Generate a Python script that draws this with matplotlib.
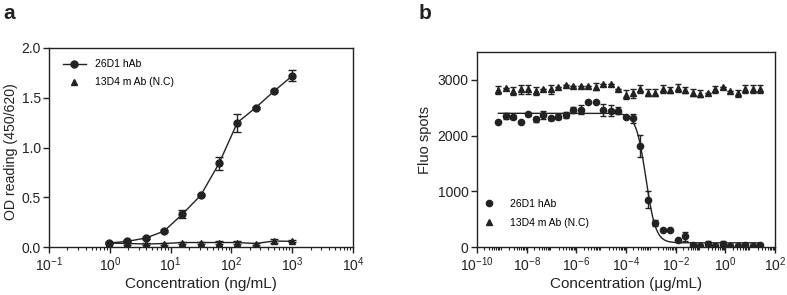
"""
Two-panel binding / neutralisation chart: ELISA OD (a) and Fluo spots (b).
"""

import numpy as np
import matplotlib
matplotlib.use("Agg")
import matplotlib.pyplot as plt
from matplotlib.lines import Line2D
from matplotlib.ticker import LogLocator, NullFormatter

plt.rcParams['font.family'] = ['Liberation Sans', 'DejaVu Sans']
plt.rcParams['mathtext.fontset'] = 'custom'
plt.rcParams['mathtext.rm'] = 'Liberation Sans'
plt.rcParams['mathtext.it'] = 'Liberation Sans:italic'

INK = '#222222'

# ---- panel a: ELISA, 2-fold dilution from 1000 ng/mL
conc_a = [0.977, 1.95, 3.91, 7.81, 15.6, 31.3, 62.5, 125, 250, 500, 1000]
od_26d1 = [0.04, 0.057, 0.09, 0.16, 0.33, 0.52, 0.84, 1.25, 1.40, 1.565, 1.72]
od_26d1_err = [0.01, 0.01, 0.01, 0.01, 0.04, 0.01, 0.065, 0.09, 0.01, 0.01, 0.055]
od_13d4 = [0.04, 0.035, 0.03, 0.035, 0.045, 0.045, 0.045, 0.045, 0.035, 0.06, 0.057]
od_13d4_err = [0.01, 0.01, 0.01, 0.01, 0.01, 0.01, 0.015, 0.015, 0.01, 0.02, 0.01]

# ---- panel b: Fluo spots, 2-fold dilution from 25 ug/mL (36 points)
conc_b = [25.0 / 2 ** k for k in range(35, -1, -1)]
spots_26d1 = [2250, 2350, 2330, 2250, 2380, 2290, 2370, 2310, 2340, 2370,
              2460, 2460, 2600, 2610, 2460, 2450, 2450, 2330, 2310, 1810,
              850, 430, 300, 300, 130, 190, 30, 10, 50, 10,
              60, 10, 10, 30, 15, 30]
spots_26d1_err = [0, 60, 40, 0, 30, 40, 80, 30, 40, 60,
                  60, 80, 0, 0, 100, 100, 60, 0, 80, 200,
                  150, 60, 0, 0, 0, 80, 40, 0, 50, 0,
                  40, 0, 0, 40, 0, 30]
spots_13d4 = [2820, 2860, 2800, 2830, 2830, 2800, 2840, 2830, 2880, 2910,
              2890, 2890, 2890, 2880, 2930, 2930, 2830, 2730, 2760, 2830,
              2770, 2770, 2830, 2820, 2850, 2820, 2770, 2750, 2760, 2830,
              2870, 2800, 2760, 2830, 2830, 2830]
spots_13d4_err = [70, 0, 80, 80, 80, 70, 0, 80, 0, 0,
                  0, 0, 0, 60, 0, 0, 0, 80, 80, 70,
                  60, 60, 70, 60, 70, 60, 60, 60, 0, 60,
                  0, 0, 60, 70, 70, 70]

# fitted 4PL curve parameters
fit_top, fit_bottom, fit_ic50, fit_hill = 2400, 75, 6.3e-4, 2.2


def log_axis_style(ax):
    ax.set_xscale('log')
    ax.xaxis.set_minor_locator(LogLocator(base=10, subs=np.arange(2, 10),
                                          numticks=30))
    ax.xaxis.set_minor_formatter(NullFormatter())
    ax.tick_params(axis='both', which='major', direction='out', length=4.5,
                   width=1, color=INK, labelsize=10, labelcolor=INK, pad=1.5)
    ax.tick_params(axis='x', which='minor', direction='out', length=2.5,
                   width=0.8, color=INK)
    for sp in ax.spines.values():
        sp.set_color(INK)
        sp.set_linewidth(1.0)


def pow_labels(exps):
    return [r'$\mathregular{10^{%d}}$' % e for e in exps]


fig = plt.figure(figsize=(7.87, 2.95), dpi=100)

# ---------------- panel a
ax1 = fig.add_axes([0.0623, 0.1627, 0.3863, 0.6746])
ax1.errorbar(conc_a, od_26d1, yerr=od_26d1_err, color=INK, marker='o',
             markersize=5, linewidth=1, capsize=3, elinewidth=1, capthick=1)
ax1.errorbar(conc_a, od_13d4, yerr=od_13d4_err, color=INK, marker='^',
             markersize=4.5, linewidth=1, capsize=3, elinewidth=1, capthick=1)
log_axis_style(ax1)
ax1.set_xlim(0.1, 1e4)
ax1.set_ylim(0, 2.0)
ax1.set_yticks([0.0, 0.5, 1.0, 1.5, 2.0])
ax1.set_yticklabels(['0.0', '0.5', '1.0', '1.5', '2.0'])
ax1.set_xticks([10.0 ** e for e in range(-1, 5)])
ax1.set_xticklabels(pow_labels(range(-1, 5)))
ax1.set_xlabel('Concentration (ng/mL)', fontsize=11, color=INK, labelpad=2)
ax1.set_ylabel('OD reading (450/620)', fontsize=10.2, color=INK)
ax1.yaxis.set_label_coords(-0.102, 0.48)
handles_a = [
    Line2D([], [], color=INK, marker='o', markersize=5, linewidth=1),
    Line2D([], [], color=INK, marker='^', markersize=4.5, linestyle='none'),
]
ax1.legend(handles_a, ['26D1 hAb', '13D4 m Ab (N.C)'], loc='upper left',
           frameon=False, fontsize=7.5, handlelength=2.2, handletextpad=0.9,
           bbox_to_anchor=(0.015, 0.99), labelspacing=0.75)
fig.text(0.004, 0.955, 'a', fontsize=15, fontweight='bold', color=INK,
         va='center')

# ---------------- panel b
ax2 = fig.add_axes([0.6061, 0.1627, 0.3787, 0.661])
ax2.errorbar(conc_b, spots_13d4, yerr=spots_13d4_err, color=INK, marker='^',
             markersize=4.5, linestyle='none', capsize=2.5, elinewidth=1,
             capthick=1)
ax2.errorbar(conc_b, spots_26d1, yerr=spots_26d1_err, color=INK, marker='o',
             markersize=4.5, linestyle='none', capsize=2.5, elinewidth=1,
             capthick=1)
xfit = np.logspace(np.log10(conc_b[0]), np.log10(conc_b[-1]), 400)
yfit = fit_bottom + (fit_top - fit_bottom) / (1 + (xfit / fit_ic50) ** fit_hill)
ax2.plot(xfit, yfit, color=INK, linewidth=1)
log_axis_style(ax2)
ax2.set_xlim(1e-10, 1e2)
ax2.set_ylim(0, 3500)
ax2.set_yticks([0, 1000, 2000, 3000])
ax2.set_xticks([10.0 ** e for e in range(-10, 3, 2)])
ax2.set_xticklabels(pow_labels(range(-10, 3, 2)))
ax2.set_xlabel('Concentration (\u03bcg/mL)', fontsize=11, color=INK,
               labelpad=2)
ax2.set_ylabel('Fluo spots', fontsize=10.5, color=INK)
ax2.yaxis.set_label_coords(-0.151, 0.55)
handles_b = [
    Line2D([], [], color=INK, marker='o', markersize=4.5, linestyle='none'),
    Line2D([], [], color=INK, marker='^', markersize=4.5, linestyle='none'),
]
ax2.legend(handles_b, ['26D1 hAb', '13D4 m Ab (N.C)'], loc='lower left',
           frameon=False, fontsize=7.5, handlelength=2.2, handletextpad=0.9,
           bbox_to_anchor=(-0.03, 0.05), labelspacing=0.9)
fig.text(0.532, 0.955, 'b', fontsize=15, fontweight='bold', color=INK,
         va='center')

plt.savefig('out.png', dpi=100)
